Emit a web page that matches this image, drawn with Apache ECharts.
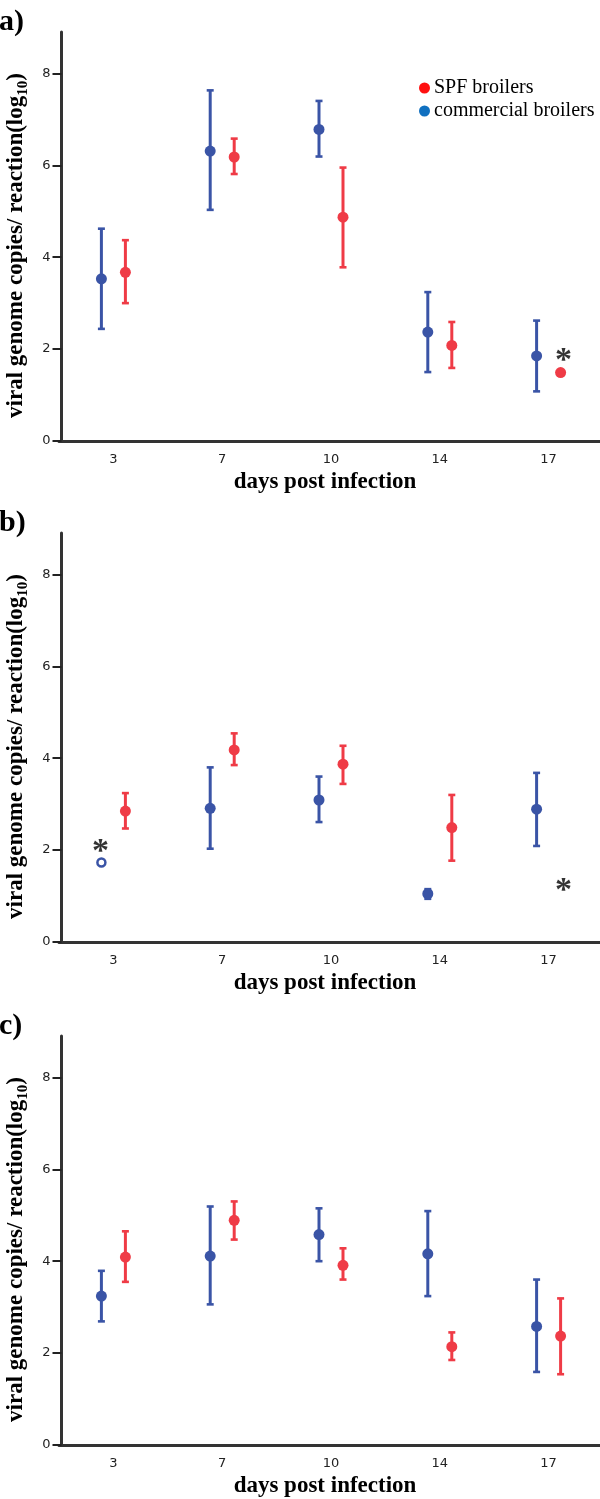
<!DOCTYPE html>
<html>
<head>
<meta charset="utf-8">
<script src="https://cdn.jsdelivr.net/npm/echarts@6/dist/echarts.min.js"></script>
<style>html,body{margin:0;padding:0;background:#fff;}#c{width:600px;height:1499px;}</style>
</head>
<body>
<div id="c"></div>
<script>
// ---- data ----
const days = ['3', '7', '10', '14', '17'];
const yTicks = [0, 2, 4, 6, 8];
const panelLabels = ['a)', 'b)', 'c)'];
const seriesNames = ['SPF broilers', 'commercial broilers'];

// panel a
const aCommMean = [3.53, 6.31, 6.78, 2.37, 1.85];
const aCommLow  = [2.44, 5.03, 6.19, 1.50, 1.08];
const aCommHigh = [4.62, 7.63, 7.40, 3.24, 2.62];
const aSpfMean  = [3.67, 6.18, 4.87, 2.08, 1.49];
const aSpfLow   = [3.00, 5.81, 3.78, 1.59, null];
const aSpfHigh  = [4.37, 6.58, 5.95, 2.59, null];
// panel b
const bCommMean = [1.73, 2.91, 3.09, 1.05, 2.89];
const bCommLow  = [null, 2.03, 2.61, 0.94, 2.09];
const bCommHigh = [null, 3.80, 3.60, 1.15, 3.68];
const bSpfMean  = [2.85, 4.18, 3.87, 2.49, null];
const bSpfLow   = [2.47, 3.85, 3.44, 1.77, null];
const bSpfHigh  = [3.24, 4.54, 4.27, 3.20, null];
// panel c
const cCommMean = [3.24, 4.11, 4.58, 4.16, 2.58];
const cCommLow  = [2.69, 3.06, 4.00, 3.24, 1.59];
const cCommHigh = [3.79, 5.19, 5.15, 5.09, 3.60];
const cSpfMean  = [4.09, 4.89, 3.91, 2.14, 2.37];
const cSpfLow   = [3.55, 4.47, 3.60, 1.85, 1.54];
const cSpfHigh  = [4.65, 5.30, 4.28, 2.45, 3.19];

// hollow markers (outliers) and asterisk annotations
const bCommHollow = [true, false, false, false, false];
const aAsterisks = [{ day: '17', group: 'spf', value: 1.91 }];
const bAsterisks = [{ day: '3', group: 'comm', value: 2.12 }, { day: '17', group: 'spf', value: 1.27 }];
const cAsterisks = [];

// ---- styles ----
const BLUE = '#3A54A6';
const RED = '#EF3B46';
const OFF = 12;
const SERIF = 'Liberation Serif';
const gridTops = [32, 533, 1036];
const GRID_H = 409;

const panels = [
  { comm: [aCommMean, aCommLow, aCommHigh], spf: [aSpfMean, aSpfLow, aSpfHigh], hollow: null, ast: aAsterisks },
  { comm: [bCommMean, bCommLow, bCommHigh], spf: [bSpfMean, bSpfLow, bSpfHigh], hollow: bCommHollow, ast: bAsterisks },
  { comm: [cCommMean, cCommLow, cCommHigh], spf: [cSpfMean, cSpfLow, cSpfHigh], hollow: null, ast: cAsterisks }
];

const grid = [], xAxis = [], yAxis = [], series = [], title = [];

function errData(low, high) {
  const out = [];
  for (let i = 0; i < days.length; i++) {
    if (low[i] != null && high[i] != null) out.push([i, low[i], high[i]]);
  }
  return out;
}
function errSeries(idx, low, high, color, off) {
  return {
    type: 'custom', xAxisIndex: idx, yAxisIndex: idx, z: 2,
    data: errData(low, high),
    renderItem: function (params, api) {
      const pLo = api.coord([api.value(0), api.value(1)]);
      const pHi = api.coord([api.value(0), api.value(2)]);
      const cx = pLo[0] + off;
      const st = { stroke: color, lineWidth: 3 };
      const cap = { stroke: color, lineWidth: 2.6 };
      return {
        type: 'group', children: [
          { type: 'line', shape: { x1: cx, y1: pLo[1], x2: cx, y2: pHi[1] }, style: st },
          { type: 'line', shape: { x1: cx - 3.5, y1: pLo[1], x2: cx + 3.5, y2: pLo[1] }, style: cap },
          { type: 'line', shape: { x1: cx - 3.5, y1: pHi[1], x2: cx + 3.5, y2: pHi[1] }, style: cap }
        ]
      };
    }
  };
}

panels.forEach(function (p, i) {
  grid.push({ left: 59, width: 544, top: gridTops[i], height: GRID_H, containLabel: false, outerBoundsMode: 'none' });
  title.push({
    text: panelLabels[i], left: -1, top: gridTops[i] - 25, padding: 0,
    textStyle: { fontFamily: SERIF, fontWeight: 'bold', fontSize: 30, color: '#000' }
  });
  xAxis.push({
    type: 'category', gridIndex: i, data: days, boundaryGap: true,
    name: 'days post infection', nameLocation: 'middle', nameGap: 30,
    nameTextStyle: { fontFamily: SERIF, fontWeight: 'bold', fontSize: 23, color: '#000', padding: [0, 12, 0, 0] },
    axisLine: { lineStyle: { color: '#333', width: 3 } },
    axisTick: { alignWithLabel: true, length: 8, lineStyle: { color: '#222', width: 2 } },
    axisLabel: { color: '#222', fontFamily: 'DejaVu Sans', fontSize: 13, margin: 12 },
    splitLine: { show: false }
  });
  yAxis.push({
    type: 'value', gridIndex: i, min: 0, max: 8.9, offset: -2.5,
    name: '{t|viral genome copies/ reaction(log}{s|10}{t|)}',
    nameLocation: 'middle', nameGap: 31,
    nameTextStyle: {
      padding: [0, 18, 0, 0],
      rich: {
        t: { fontFamily: SERIF, fontWeight: 'bold', fontSize: 23, color: '#000', lineHeight: 28, verticalAlign: 'middle' },
        s: { fontFamily: SERIF, fontWeight: 'bold', fontSize: 15, color: '#000', lineHeight: 15, verticalAlign: 'bottom' }
      }
    },
    axisLine: { show: true, lineStyle: { color: '#333', width: 3 } },
    axisTick: { show: true, length: 9, customValues: yTicks, lineStyle: { color: '#222', width: 2 } },
    axisLabel: { customValues: yTicks, color: '#222', fontFamily: 'DejaVu Sans', fontSize: 13, margin: 11 },
    splitLine: { show: false }
  });

  series.push(errSeries(i, p.comm[1], p.comm[2], BLUE, -OFF));
  series.push(errSeries(i, p.spf[1], p.spf[2], RED, OFF));

  series.push({
    name: seriesNames[1], type: 'scatter', xAxisIndex: i, yAxisIndex: i, z: 4,
    symbol: 'circle', symbolSize: 11, symbolOffset: [-OFF, 0],
    itemStyle: { color: BLUE, opacity: 1 },
    data: p.comm[0].map(function (v, k) {
      if (v == null) return [k, null];
      if (p.hollow && p.hollow[k]) {
        return { value: [k, v], symbolSize: 8, itemStyle: { color: '#fff', borderColor: BLUE, borderWidth: 2.5 } };
      }
      return [k, v];
    })
  });
  series.push({
    name: seriesNames[0], type: 'scatter', xAxisIndex: i, yAxisIndex: i, z: 4,
    symbol: 'circle', symbolSize: 11, symbolOffset: [OFF, 0],
    itemStyle: { color: RED, opacity: 1 },
    data: p.spf[0].map(function (v, k) { return [k, v]; })
  });
  if (p.ast.length) {
    series.push({
      type: 'scatter', xAxisIndex: i, yAxisIndex: i, z: 5, silent: true,
      symbol: 'circle', symbolSize: 2, itemStyle: { color: 'rgba(0,0,0,0)' },
      data: p.ast.map(function (a) {
        return {
          value: [days.indexOf(a.day), a.value],
          label: {
            show: true, formatter: '*', position: 'inside',
            offset: [a.group === 'spf' ? OFF + 3 : -OFF - 1, 8],
            fontFamily: SERIF, fontWeight: 'bold', fontSize: 34, color: '#000'
          }
        };
      })
    });
  }
});

const option = {
  animation: false,
  backgroundColor: '#fff',
  title: title,
  legend: {
    orient: 'vertical', left: 414, top: 73, padding: 5, itemGap: 3,
    itemWidth: 11, itemHeight: 11, icon: 'circle',
    textStyle: { fontFamily: SERIF, fontSize: 20, color: '#000', padding: [0, 0, 0, -1] },
    data: [
      { name: seriesNames[0], itemStyle: { color: '#FF1010' } },
      { name: seriesNames[1], itemStyle: { color: '#1070C0' } }
    ]
  },
  grid: grid, xAxis: xAxis, yAxis: yAxis, series: series
};

const chart = echarts.init(document.getElementById('c'), null, { renderer: 'canvas' });
chart.setOption(option);
</script>
</body>
</html>
